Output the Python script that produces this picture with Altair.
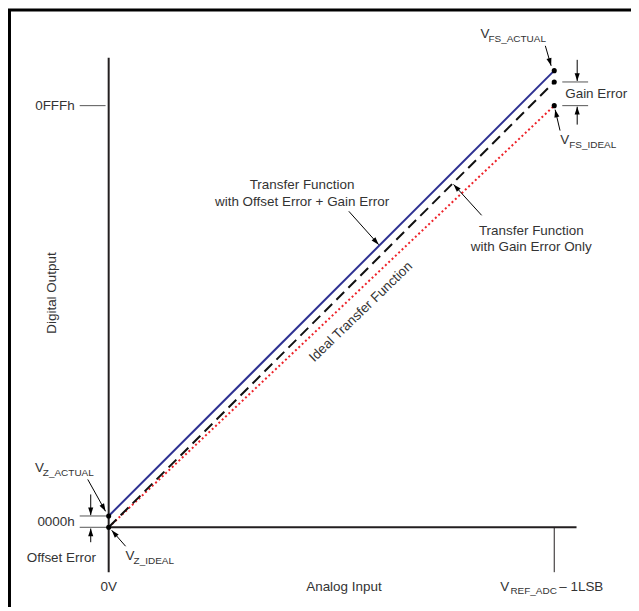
import math
import altair as alt
import pandas as pd

# ---------------- data (x: analog input as fraction of V_REF_ADC - 1LSB, y: output code) -------------
tf_x = [0.0, 1.0]
ideal_y = [0, 4095]
gain_y = [0, 4325]
offset_gain_y = [110, 4435]

dot_x = [0.0, 0.0, 1.0, 1.0, 1.0]
dot_y = [110, 0, 4435, 4325, 4095]

# main axes
axis_x = [0.0, 0.0]
axis_x2 = [1.05, 0.0]
axis_y = [0, -436]
axis_y2 = [0, 4560]
# full-scale input tick
fs_tick_x = [1.0]
fs_tick_y = [0]
fs_tick_y2 = [-436]

# gray level lines (0FFFh, 0000h levels, gain error levels)
lvl_x = [-0.065, -0.065, -0.065, 1.018, 1.018]
lvl_x2 = [-0.007, -0.004, -0.004, 1.076, 1.076]
lvl_y = [4095, 110, 0, 4325, 4095]

# arrows: start -> tip
arr_x = [-0.0403, -0.0403, 1.0515, 1.0515, -0.047, 0.038, 0.980, 1.013, 0.539, 0.837]
arr_y = [319, -145, 4540, 3911, 465, -184, 4676, 3853, 3069, 3030]
arr_tx = [-0.0403, -0.0403, 1.0515, 1.0515, -0.007, 0.0067, 0.993, 1.002, 0.606, 0.774]
arr_ty = [118, -12, 4335, 4085, 155, -29, 4482, 4056, 2745, 3330]

# labels
left_text = ["V", "V", "V", "– 1LSB", "V", "Gain Error", "V"]
left_x = [-0.1655, 0.038, 0.879, 1.0112, 0.8345, 1.0246, 1.0134]
left_y = [571, -281, -581, -581, 4792, 4211, 3766]

center_text = ["Offset Error", "0V", "Analog Input", "Transfer Function",
               "with Offset Error + Gain Error", "Transfer Function", "with Gain Error Only"]
center_x = [-0.1063, 0.0, 0.528, 0.434, 0.434, 0.9485, 0.9485]
center_y = [-300, -581, -581, 3321, 3156, 2875, 2720]

right_text = ["0FFFh", "0000h"]
right_x = [-0.0761, -0.0761]
right_y = [4095, 55]

sub_text = ["Z_ACTUAL", "Z_IDEAL", "REF_ADC", "FS_ACTUAL", "FS_IDEAL"]
sub_x = [-0.1477, 0.0559, 0.9016, 0.8523, 1.0336]
sub_y = [523, -329, -620, 4744, 3708]

yaxis_title = ["Digital Output"]
yaxis_title_x = [-0.1275]
yaxis_title_y = [2275]

ideal_label = ["Ideal Transfer Function"]
ideal_label_x = [0.566]
ideal_label_y = [2091]

# ---------------- layout ----------------
W, H = 625, 600
XR = [101, 548]
YR = [520, 97]
xs = alt.Scale(domain=[0, 1], range=XR, nice=False, zero=False)
ys = alt.Scale(domain=[0, 4095], range=YR, nice=False, zero=False)
px_x = (XR[1] - XR[0]) / 1.0
px_y = (YR[0] - YR[1]) / 4095.0

FONT = "Liberation Sans"
TXT = "#333333"

def X(f="x"):
    return alt.X(f"{f}:Q", scale=xs, axis=None)

def Y(f="y"):
    return alt.Y(f"{f}:Q", scale=ys, axis=None)

def seg_df(x, y, x2, y2):
    return pd.DataFrame({"x": x, "y": y, "x2": x2, "y2": y2})

layers = []

# frame (top and left edges)
frame = alt.Chart(pd.DataFrame({"k": [0]}))
layers.append(frame.mark_rule(color="black", strokeWidth=3).encode(
    x=alt.value(0), x2=alt.value(W), y=alt.value(1)))
layers.append(frame.mark_rule(color="black", strokeWidth=3).encode(
    x=alt.value(1.5), y=alt.value(0), y2=alt.value(H)))

# axes
layers.append(alt.Chart(seg_df(axis_x, axis_y, axis_x2, axis_y2)).mark_rule(
    color="#231f20", strokeWidth=2).encode(x=X(), y=Y(), x2="x2:Q", y2="y2:Q"))
layers.append(alt.Chart(pd.DataFrame({"x": fs_tick_x, "y": fs_tick_y, "y2": fs_tick_y2})).mark_rule(
    color="#231f20", strokeWidth=1).encode(x=X(), y=Y(), y2="y2:Q"))

# gray level lines
layers.append(alt.Chart(pd.DataFrame({"x": lvl_x, "x2": lvl_x2, "y": lvl_y})).mark_rule(
    color="#555555", strokeWidth=1).encode(x=X(), x2="x2:Q", y=Y()))

# transfer functions
layers.append(alt.Chart(pd.DataFrame({"x": tf_x, "y": ideal_y})).mark_line(
    color="#ee2229", strokeWidth=2, strokeDash=[2, 2.6]).encode(x=X(), y=Y()))
layers.append(alt.Chart(pd.DataFrame({"x": tf_x, "y": gain_y})).mark_line(
    color="#111111", strokeWidth=2, strokeDash=[11, 6]).encode(x=X(), y=Y()))
layers.append(alt.Chart(pd.DataFrame({"x": tf_x, "y": offset_gain_y})).mark_line(
    color="#2e3192", strokeWidth=2).encode(x=X(), y=Y()))

# dots
layers.append(alt.Chart(pd.DataFrame({"x": dot_x, "y": dot_y})).mark_circle(
    color="black", size=26, opacity=1).encode(x=X(), y=Y()))

# arrows
ang = []
for a, b, c, d in zip(arr_x, arr_y, arr_tx, arr_ty):
    dxs = (c - a) * px_x
    dys = -(d - b) * px_y
    ang.append(math.degrees(math.atan2(dxs, -dys)) % 360)
arr_df = pd.DataFrame({"x": arr_x, "y": arr_y, "x2": arr_tx, "y2": arr_ty, "ang": ang})
layers.append(alt.Chart(arr_df).mark_rule(color="black", strokeWidth=1).encode(
    x=X(), y=Y(), x2="x2:Q", y2="y2:Q"))
layers.append(alt.Chart(arr_df).mark_point(
    shape="M0,0L-0.33,1L0.33,1Z", filled=True, color="black", opacity=1, size=240, strokeWidth=0).encode(
    x=X("x2"), y=Y("y2"), angle=alt.Angle("ang:Q", scale=None)))

# texts
def text_layer(t, x, y, align, size, angle=0):
    df = pd.DataFrame({"t": t, "x": x, "y": y})
    return alt.Chart(df).mark_text(
        align=align, baseline="middle", font=FONT, fontSize=size, color=TXT, angle=angle
    ).encode(x=X(), y=Y(), text="t:N")

layers.append(text_layer(left_text, left_x, left_y, "left", 13.5))
layers.append(text_layer(center_text, center_x, center_y, "center", 13.5))
layers.append(text_layer(right_text, right_x, right_y, "right", 13.5))
layers.append(text_layer(sub_text, sub_x, sub_y, "left", 10))
layers.append(text_layer(yaxis_title, yaxis_title_x, yaxis_title_y, "center", 13.5, 270))
layers.append(text_layer(ideal_label, ideal_label_x, ideal_label_y, "center", 13.5, 316))

chart = alt.layer(*layers).properties(
    width=W, height=H, autosize=alt.AutoSizeParams(type="none"), padding=0
).configure_view(strokeWidth=0)

chart.save("out.html", embed_options={"renderer": "svg", "actions": False})
